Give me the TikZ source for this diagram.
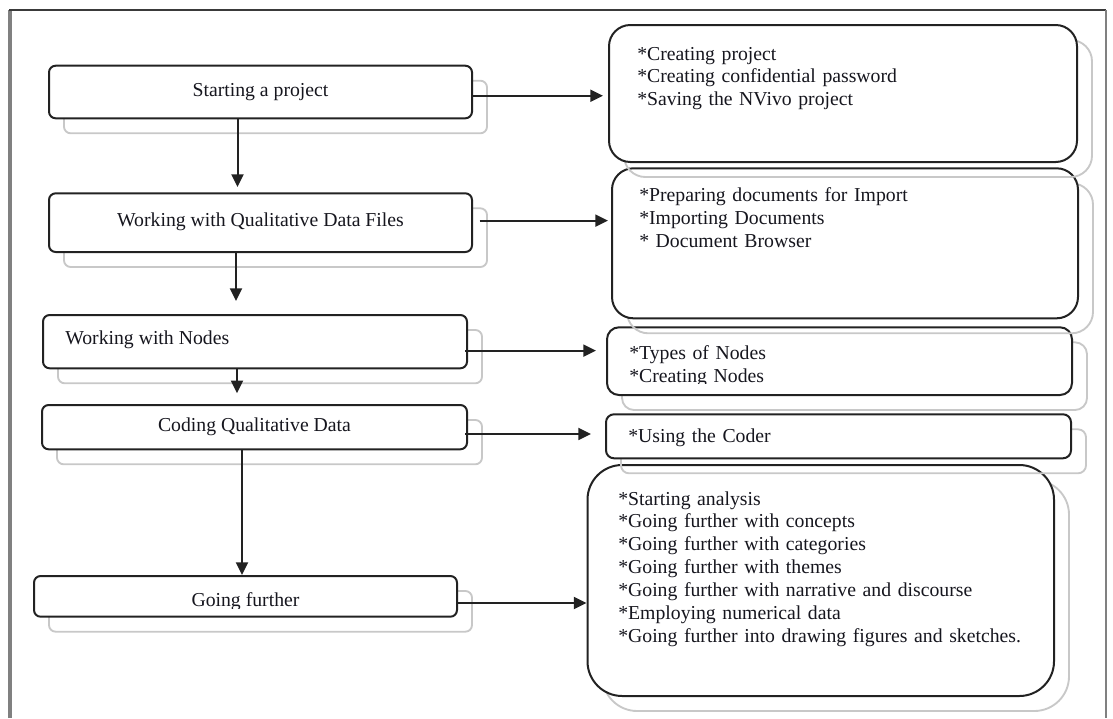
\documentclass[tikz,border=0pt]{standalone}
\usepackage{fontspec}
\setmainfont{Liberation Serif}
\usetikzlibrary{arrows.meta,fit}

\definecolor{ink}{HTML}{16161E}
\definecolor{edge}{HTML}{222222}
\definecolor{shade}{HTML}{C8C8C8}
\definecolor{frametop}{HTML}{3A3A3A}
\definecolor{frameside}{HTML}{808080}

\tikzset{
  panelbox/.style={draw=edge, line width=1.5pt, fill=white, inner sep=0pt},
  shadowline/.style={draw=shade, line width=1.4pt},
  flow/.style={draw=edge, line width=1.5pt, -{Triangle[length=9.5pt,width=9pt]}},
  txt/.style={font=\fontsize{14.8pt}{17.2pt}\selectfont, text=ink, inner sep=0pt},
  itemlist/.style={txt, anchor=base west, align=left, text width=340pt},
}

% #1 name, (#2,#3) top left, (#4,#5) bottom right, #6 corner radius
\newcommand\panel[6]{%
  \draw[shadowline, rounded corners=#6] (#2+15,#3+15) rectangle (#4+15,#5+15);
  \node[panelbox, rounded corners=#6, fit={(#2,#3) (#4,#5)}] (#1) {};
}

\begin{document}
\begin{tikzpicture}[x=0.75pt,y=-0.75pt]
\useasboundingbox (0,0) rectangle (1113,718);

% page frame, open at the bottom
\draw[frameside, line width=2.4pt] (10,718) -- (10,10);
\draw[frametop, line width=1.3pt] (9,10) -- (1106,10);
\draw[frameside, line width=1.2pt] (1106,10) -- (1106,718);

% left column: main steps
\panel{L1}{49}{65.7}{472}{118.3}{5pt}
\panel{L2}{49}{193.3}{472}{252}{5pt}
\panel{L3}{43}{315}{467}{368.3}{5pt}
\panel{L4}{42}{405}{467}{449.3}{5pt}
\panel{L5}{34}{576}{457}{616.7}{5pt}

\node[txt] (t1) at (L1.center) {Starting a project};
\node[txt] (t2) at ([yshift=1pt]L2.center) {Working with Qualitative Data Files};
\node[txt, anchor=west] (t3) at ([xshift=17.25pt,yshift=1.5pt]L3.west) {Working with Nodes};
\node[txt] (t4) at ([yshift=0.5pt]L4.center) {Coding Qualitative Data};
\begin{scope}
  \clip (30,570) rectangle (460,608.5);
  \node[txt, anchor=base] (t5) at ([yshift=-7.8pt]L5.center) {Going further};
\end{scope}

% right column: details, lower panels first so upper shadows lie on top
\panel{R5}{587.5}{465}{1054}{696}{26pt}
\panel{R4}{606}{414.3}{1071}{458.3}{6pt}
\panel{R3}{607}{327.3}{1072}{395}{9pt}
\panel{R2}{612}{168.3}{1078}{318.3}{16pt}
\panel{R1}{609}{25}{1077}{162}{16pt}

\node[itemlist] (d1) at (637,60) {*Creating project\\{}*Creating confidential password\\{}*Saving the NVivo project};
\node[itemlist] (d2) at (639,201.7) {*Preparing documents for Import\\{}*Importing Documents\\{}* Document Browser};
\begin{scope}
  \clip (600,320) rectangle (1080,383);
  \node[itemlist] (d3) at (629,359.3) {*Types of Nodes\\{}*Creating Nodes};
\end{scope}
\node[itemlist] (d4) at (628,442.3) {*Using the Coder};
\node[itemlist] (d5) at (618,505) {*Starting analysis\\{}*Going further with concepts\\{}*Going further with categories\\{}*Going further with themes\\{}*Going further with narrative and discourse\\{}*Employing numerical data\\{}*Going further into drawing figures and sketches.};

% vertical flow between the steps
\coordinate (v1) at ([xshift=-17.25pt]L1.south);
\coordinate (v2) at ([xshift=-18.4pt]L2.south);
\coordinate (v3) at ([xshift=-13.5pt]L3.south);
\coordinate (v4) at ([xshift=-9.4pt]L4.south);
\draw[flow, shorten >=4pt] (v1) -- (v1 |- L2.north);
\draw[flow, shorten >=9.75pt] (v2) -- (v2 |- L3.north);
\draw[flow, shorten >=8pt] (v3) -- (v3 |- L4.north);
\draw[flow] (v4) -- (v4 |- L5.north);

% links from each step to its details
\coordinate (h1) at ([yshift=-2.8pt]L1.east);
\coordinate (h2) at ([xshift=5pt,yshift=1.5pt]L2.east);
\coordinate (h3) at ([xshift=-2.25pt,yshift=-6.75pt]L3.east);
\coordinate (h4) at ([xshift=-2.25pt,yshift=-5.1pt]L4.east);
\coordinate (h5) at ([yshift=-5pt]L5.east);
\draw[flow, shorten >=3.75pt] (h1) -- (h1 -| R1.west);
\draw[flow, shorten >=2.25pt] (h2) -- (h2 -| R2.west);
\draw[flow, shorten >=7.5pt] (h3) -- (h3 -| R3.west);
\draw[flow, shorten >=10.5pt] (h4) -- (h4 -| R4.west);
\draw[flow] (h5) -- (h5 -| R5.west);
\end{tikzpicture}
\end{document}
